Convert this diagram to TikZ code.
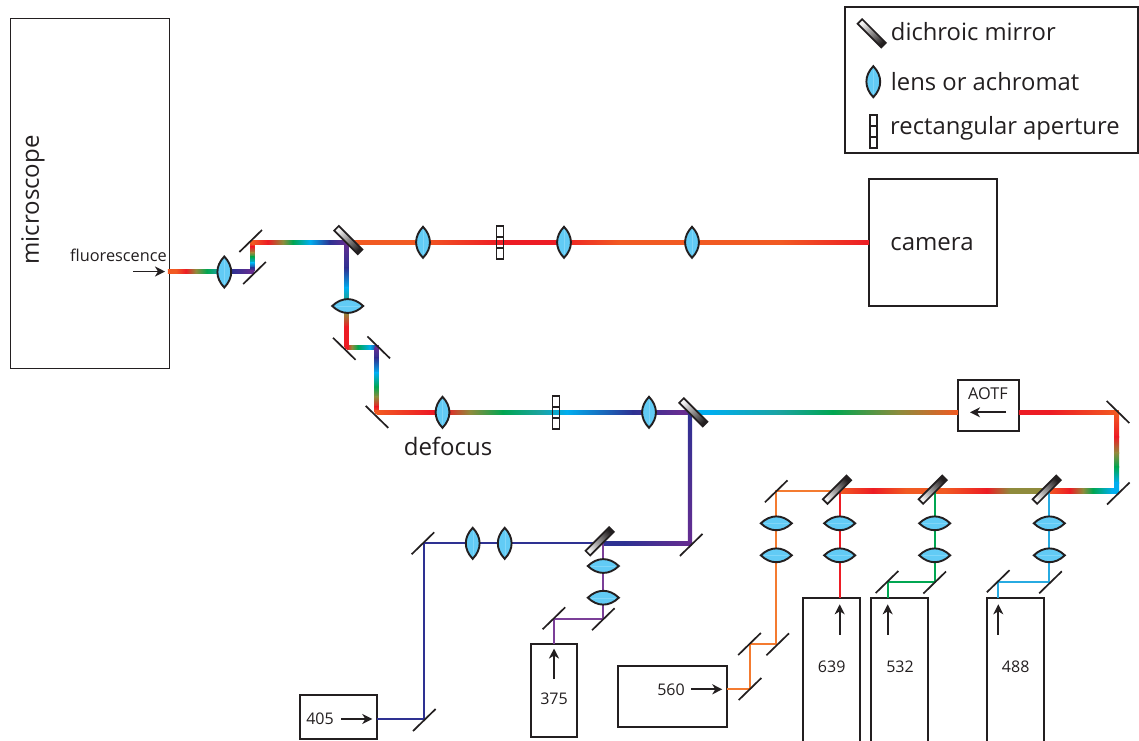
\documentclass[tikz,border=0pt]{standalone}
\usepackage{fontspec}
\setmainfont{Open Sans}
\usetikzlibrary{arrows.meta,calc}
\definecolor{ink}{HTML}{231F20}
\definecolor{lensblue}{HTML}{62CBF5}
\definecolor{lensline}{HTML}{80D6F8}
\definecolor{cR}{HTML}{ED1C24}
\definecolor{cO}{HTML}{F15A22}
\definecolor{cL}{HTML}{8F8B3C}
\definecolor{cG}{HTML}{00A651}
\definecolor{cC}{HTML}{00AEEF}
\definecolor{cT}{HTML}{1BA3A0}
\definecolor{cI}{HTML}{2E3192}
\definecolor{cP}{HTML}{662D91}
\definecolor{thinO}{HTML}{F47B30}
\definecolor{thinB}{HTML}{27AAE1}
\definecolor{thinP}{HTML}{7B3F98}
\newcommand{\hbeam}[4]{%
  \draw[line width=1pt,cO] (#1) -- (#2);
  \foreach \sx/\sc [count=\si, remember=\sx as \px (initially 0), remember=\sc as \pc (initially cR)] in {#4}{%
    \ifnum\si>1
      \shade[left color=\pc,right color=\sc] ($(\px,0 |- #1)+(-0.15,-#3/2)$) rectangle ($(\sx,0 |- #1)+(0,#3/2)$);
    \fi}}
\newcommand{\vbeam}[4]{%
  \draw[line width=1pt,cO] (#1) -- (#2);
  \foreach \sy/\sc [count=\si, remember=\sy as \py (initially 0), remember=\sc as \pc (initially cR)] in {#4}{%
    \ifnum\si>1
      \shade[top color=\pc,bottom color=\sc] ($(#1 |- 0,\py)+(-#3/2,-0.15)$) rectangle ($(#1 |- 0,\sy)+(#3/2,0)$);
    \fi}}
\newcommand{\bend}[3]{\fill[#3] ($(#1)+(-#2/2,-#2/2)$) rectangle ($(#1)+(#2/2,#2/2)$);}
\tikzset{
  x=1pt,y=-1pt,
  optic/.style={draw=ink,line width=1.7pt},
  boxst/.style={draw=ink,line width=1.7pt,fill=none,inner sep=0pt,outer sep=0pt},
  thinbeam/.style={line width=2pt,line join=miter},
  ptr/.style={draw=ink,line width=1.8pt,-{Stealth[length=10pt,width=10pt,inset=3pt]}},
  lab/.style={text=ink,inner sep=0pt,font=\fontsize{16}{16}\selectfont},
  lab2/.style={text=ink,inner sep=0pt,font=\fontsize{16.3}{16.3}\selectfont},
  big/.style={text=ink,inner sep=0pt,font=\fontsize{24}{24}\selectfont},
  leg/.style={text=ink,inner sep=0pt,anchor=base west,font=\fontsize{23.8}{23.8}\selectfont},
  mirrorR/.pic={\draw[optic] (-11.3,11) -- (11.3,-11);},
  mirrorL/.pic={\draw[optic] (-11.3,-11) -- (11.3,11);},
  lensV/.pic={\draw[optic,line width=1.9pt,fill=lensblue] (0,-15.5) .. controls (9.2,-6) and (9.2,6) .. (0,15.5) .. controls (-9.2,6) and (-9.2,-6) .. cycle;
     \draw[lensline,line width=.4pt] (0,-12) -- (0,12);},
  lensH/.pic={\draw[optic,line width=1.9pt,fill=lensblue] (-15.5,0) .. controls (-6,-9.2) and (6,-9.2) .. (15.5,0) .. controls (6,9.2) and (-6,9.2) .. cycle;
     \draw[lensline,line width=.4pt] (-12,0) -- (12,0);},
  aperture/.pic={\draw[optic] (-3.6,-16.5) rectangle (3.6,16.5);
     \draw[optic] (-3.6,-5.5) -- (3.6,-5.5) (-3.6,5.5) -- (3.6,5.5);},
  dichL/.pic={\path[optic,top color=ink,bottom color=ink!5,shading angle=-135] (-9.5,-14.1) -- (14.1,9.5) -- (9.5,14.1) -- (-14.1,-9.5) -- cycle;},
  dichR/.pic={\path[optic,top color=ink,bottom color=ink!5,shading angle=-45] (9.5,-14.1) -- (-14.1,9.5) -- (-9.5,14.1) -- (14.1,-9.5) -- cycle;},
}
\begin{document}
\begin{tikzpicture}
\clip (0,0) rectangle (1139,740);
\fill[white] (0,0) rectangle (1139,740);

% boxes
\node[boxst,minimum width=159pt,minimum height=350pt,line width=1pt] (scope) at (89.5,193) {};
\node[boxst,minimum width=128pt,minimum height=127pt] (camera) at (933,242.5) {};
\node[boxst,minimum width=61pt,minimum height=51pt] (aotf) at (988.5,405.5) {};
\node[boxst,minimum width=77pt,minimum height=44.5pt] (l405) at (338.5,717) {};
\node[boxst,minimum width=45.4pt,minimum height=92.7pt] (l375) at (554,690.4) {};
\node[boxst,minimum width=109pt,minimum height=61pt] (l560) at (672.5,696.2) {};
\node[boxst,minimum width=57pt,minimum height=160pt] (l639) at (831.5,678) {};
\node[boxst,minimum width=57pt,minimum height=160pt] (l532) at (899.2,678) {};
\node[boxst,minimum width=57pt,minimum height=160pt] (l488) at (1015.5,678) {};
\node[boxst,minimum width=293pt,minimum height=145.4pt] (legend) at (991.5,80) {};

% beam corner points
\coordinate (fIn) at (scope.east |- 0,271.7);
\coordinate (a1) at (252.3,271.7);
\coordinate (a2) at (252.3,242.3);
\coordinate (a3) at (346.7,242.3);
\coordinate (a4) at (346.7,347.3);
\coordinate (a5) at (376.7,347.3);
\coordinate (a6) at (376.7,412.3);
\coordinate (d1) at (690,412.3);
\coordinate (d2) at (690,543.3);
\coordinate (d3) at (603,543.3);
\coordinate (camIn) at (camera.west |- 0,242.3);
\coordinate (aW) at (aotf.west |- 0,412.3);
\coordinate (aE) at (aotf.east |- 0,412.3);
\coordinate (r1) at (1116.8,412.3);
\coordinate (r2) at (1116.8,491);
\coordinate (o1) at (776.3,491);
\coordinate (o2) at (776.3,644);
\coordinate (o3) at (750,644);
\coordinate (o4) at (750,688.7);
\coordinate (t1) at (424,543.3);
\coordinate (t2) at (424,719);
\coordinate (p1) at (602.7,619);
\coordinate (p2) at (554,619);
\coordinate (rd) at (839.7,491);
\coordinate (g1) at (934.7,491);
\coordinate (g2) at (934.7,581.7);
\coordinate (g3) at (887.7,581.7);
\coordinate (b1) at (1049.3,491);
\coordinate (b2) at (1049.3,581.7);
\coordinate (b3) at (998.3,581.7);

% rainbow beams
\hbeam{fIn}{a1}{4}{168/cO,176/cO,186/cR,196/cL,207/cG,218/cT,232/cI,252/cP}
\vbeam{a2}{a1}{4}{242.3/cO,247/cR,253/cL,257/cG,263/cC,268/cI,271.7/cP}
\hbeam{a2}{a3}{4}{252.3/cO,268/cR,283/cL,293/cG,310/cC,330/cI,346.7/cP}
\vbeam{a3}{a4}{4}{242.3/cP,268/cI,288/cC,298/cT,313/cL,327/cR,347.3/cR}
\hbeam{a4}{a5}{4}{346.7/cR,352/cL,358/cG,370/cC,376.7/cI}
\vbeam{a5}{a6}{4}{347.3/cP,358/cI,373/cC,387/cG,397/cL,407/cR,412.3/cO}
\hbeam{a3}{camIn}{4.4}{347/cO,420/cO,500/cR,557/cR,620/cO,673/cO,780/cO,869/cR}
\hbeam{a6}{d1}{4.4}{376.7/cO,430/cR,445/cR,470/cL,503/cG,540/cT,567/cC,633/cI,680/cP,692/cP}
\hbeam{d1}{aW}{4.4}{690/cC,710/cC,780/cT,833/cG,900/cL,958/cO}
\hbeam{aE}{r1}{4.4}{1019/cR,1050/cR,1117/cO}
\vbeam{r1}{r2}{4.4}{412.3/cO,437/cR,453/cL,467/cG,483/cC,491/cC}
\hbeam{rd}{r2}{4.4}{839.7/cO,873/cR,906/cO,945/cO,987/cR,1010/cL,1046/cL,1048/cO,1070/cR,1083/cL,1093/cG,1112/cC,1117/cC}
\vbeam{d1}{d2}{4.4}{412.3/cI,543.3/cP}
\hbeam{d3}{d2}{4.4}{603/cI,625/cI,690/cP}
\bend{a1}{4}{cP}
\bend{a2}{4}{cO}
\bend{a4}{4}{cR}
\bend{a5}{4}{cP}
\bend{a6}{4}{cO}
\bend{d2}{4.4}{cP}
\bend{r1}{4.4}{cO}
\bend{r2}{4.4}{cC}

% single-colour beams
\draw[thinbeam,thinO] (l560.east |- o4) -- (o4) -- (o3) -- (o2) -- (o1) -- (rd);
\draw[thinbeam,cR] (rd) -- (l639.north -| rd);
\draw[thinbeam,cG] (g1) -- (g2) -- (g3) -- (l532.north -| g3);
\draw[thinbeam,thinB] (b1) -- (b2) -- (b3) -- (l488.north -| b3);
\draw[thinbeam,cI] (l405.east |- t2) -- (t2) -- (t1) -- (d3);
\draw[thinbeam,thinP] (d3 -| p1) -- (p1) -- (p2) -- (l375.north -| p2);

% mirrors
\pic (m1) at (254.5,273) {mirrorR};
\pic (m2) at (250.7,241) {mirrorR};
\pic (m3) at (344.3,348.8) {mirrorL};
\pic (m4) at (378.7,347.4) {mirrorL};
\pic (m5) at (377,416.9) {mirrorL};
\pic (m6) at (691.2,544.9) {mirrorR};
\pic (m7) at (422.9,543.3) {mirrorR};
\pic (m8) at (424.3,720) {mirrorR};
\pic (m9) at (603.3,619.2) {mirrorR};
\pic (m10) at (553.9,618.3) {mirrorR};
\pic (m11) at (776.2,491.3) {mirrorR};
\pic (m12) at (777.7,644.3) {mirrorR};
\pic (m13) at (749.5,644) {mirrorR};
\pic (m14) at (750,689) {mirrorR};
\pic (m15) at (934.7,582.5) {mirrorR};
\pic (m16) at (887,582) {mirrorR};
\pic (m17) at (1050.5,582.3) {mirrorR};
\pic (m18) at (998.2,581.2) {mirrorR};
\pic (m19) at (1118.3,493.5) {mirrorR};
\pic (m20) at (1118,412) {mirrorL};

% dichroics
\pic (da) at (348.3,240) {dichL};
\pic (db) at (693.3,412.3) {dichL};
\pic (dc) at (599.7,541.3) {dichR};
\pic (dd) at (837,489.7) {dichR};
\pic (de) at (932.7,489.7) {dichR};
\pic (df) at (1046.7,489.7) {dichR};

% lenses
\pic (la) at (224.3,272) {lensV};
\pic (lb) at (423,242.3) {lensV};
\pic (lc) at (564,242.3) {lensV};
\pic (ld) at (692,242.3) {lensV};
\pic (le) at (442.5,412.3) {lensV};
\pic (lf) at (649,412.3) {lensV};
\pic (lg) at (472.7,543.3) {lensV};
\pic (lh) at (504.7,543.3) {lensV};
\pic (li) at (347.7,306) {lensH};
\pic (lj) at (603.3,566) {lensH};
\pic (lk) at (603.3,597.7) {lensH};
\foreach \lx/\ln in {776.3/n,839.7/r,934.7/g,1049.3/b}{
  \pic (lu\ln) at (\lx,523.3) {lensH};
  \pic (lv\ln) at (\lx,555.3) {lensH};
}

% apertures
\pic (ap1) at (500,242.3) {aperture};
\pic (ap2) at (556,412.3) {aperture};

% arrows
\coordinate (ar1s) at (133,271.5); \coordinate (ar1e) at (165,271.5);
\draw[ptr] (ar1s) -- (ar1e);
\coordinate (ar2s) at (1006,412.3); \coordinate (ar2e) at (970,412.3);
\draw[ptr] (ar2s) -- (ar2e);
\coordinate (ar3s) at (341,719); \coordinate (ar3e) at (372.3,719);
\draw[ptr] (ar3s) -- (ar3e);
\coordinate (ar4s) at (554,679); \coordinate (ar4e) at (554,648.5);
\draw[ptr] (ar4s) -- (ar4e);
\coordinate (ar5s) at (691,689.3); \coordinate (ar5e) at (722.3,689.3);
\draw[ptr] (ar5s) -- (ar5e);
\foreach \ax/\an in {839.7/r,887.7/g,998.3/b}{
  \coordinate (up\an s) at (\ax,634.7); \coordinate (up\an e) at (\ax,604.3);
  \draw[ptr] (up\an s) -- (up\an e);
}

% texts
\node[big,rotate=90] (tscope) at (33,200) {microscope};
\node[lab2] (tfl) at (118.5,255) {fluorescence};
\node[big] (tcam) at (932,244) {camera};
\node[big] (tdef) at (448,446) {defocus};
\node[lab2] (taotf) at (988,394) {AOTF};
\node[lab] (t405) at (320,719) {405};
\node[lab] (t375) at (554,698.3) {375};
\node[lab] (t560) at (671,690) {560};
\node[lab] (t639) at (831.7,666.7) {639};
\node[lab] (t532) at (900,666.7) {532};
\node[lab] (t488) at (1015.7,666.7) {488};

% legend
\pic (kd) at (871.7,33.3) {dichL};
\pic (kl) at (873.3,81.7) {lensV};
\pic (ka) at (873.3,131.7) {aperture};
\node[leg] (k1) at (890.7,40.7) {dichroic mirror};
\node[leg] (k2) at (890.7,90) {lens or achromat};
\node[leg] (k3) at (890,134.5) {rectangular aperture};
\end{tikzpicture}
\end{document}
